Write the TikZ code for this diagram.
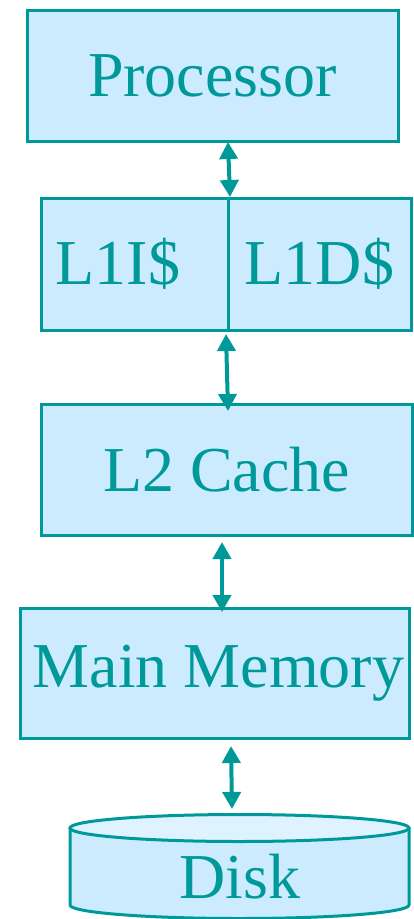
\documentclass[tikz,border=0pt]{standalone}
\usepackage{fontspec}
\setmainfont{Liberation Serif}
\usetikzlibrary{arrows.meta}
\definecolor{teal}{RGB}{0,153,153}
\definecolor{boxfill}{RGB}{204,235,255}
\definecolor{topfill}{RGB}{222,242,255}
\begin{document}
\begin{tikzpicture}[x=1pt,y=-1pt,
  box/.style={draw=teal, fill=boxfill, line width=3pt, inner sep=0pt,
    text=teal, font=\fontsize{64}{64}\selectfont},
  lbl/.style={text=teal, font=\fontsize{64}{64}\selectfont, inner sep=0pt},
  arr/.style={draw=teal, line width=4pt, {Triangle[length=17pt,width=18pt]}-{Triangle[length=17pt,width=18pt]}}]
\useasboundingbox (0,0) rectangle (414,919);
\node[box, minimum width=371pt, minimum height=131pt] (proc) at (212.5,75.5) {Processor};
\node[box, minimum width=187pt, minimum height=132pt] (l1i) at (134.5,264) {};
\node[lbl] (l1itext) at (118,264) {L1I\$};
\node[box, minimum width=183pt, minimum height=132pt] (l1d) at (319.5,264) {L1D\$};
\node[box, minimum width=389pt, minimum height=130pt] (mm) at (214.5,673) {};
\node[lbl] (mmtext) at (218.5,673) {Main Memory};
\node[box, minimum width=371pt, minimum height=131pt] (l2) at (226.5,469.5) {L2 Cache};
% disk
\fill[boxfill] (70,828) -- (70,905) arc[start angle=180, end angle=360, x radius=169.5pt, y radius=13.5pt] -- (409,828) -- cycle;
\draw[teal, line width=3pt] (70,828) -- (70,905) arc[start angle=180, end angle=360, x radius=169.5pt, y radius=13.5pt] -- (409,828);
\draw[teal, fill=topfill, line width=3pt] (239.5,828) ellipse[x radius=169.5pt, y radius=13.5pt];
\node[lbl] (disk) at (240,877) {Disk};
\coordinate (a1s) at (228,142); \coordinate (a1e) at (230,197);
\coordinate (a2s) at (226,334); \coordinate (a2e) at (228,411);
\coordinate (a3s) at (222,542); \coordinate (a3e) at (222,612);
\coordinate (a4s) at (231,746); \coordinate (a4e) at (232,809);
\draw[arr] (a1s) -- (a1e);
\draw[arr] (a2s) -- (a2e);
\draw[arr] (a3s) -- (a3e);
\draw[arr] (a4s) -- (a4e);
\end{tikzpicture}
\end{document}
